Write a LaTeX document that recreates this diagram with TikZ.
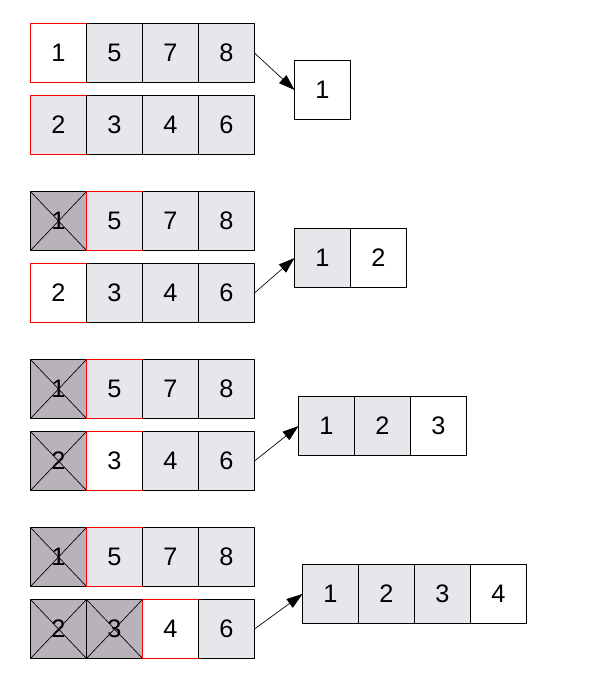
\documentclass[tikz,border=0pt]{standalone}
\usepackage{fontspec}
\setmainfont{Liberation Sans}
\usetikzlibrary{arrows.meta}
\definecolor{cellgray}{RGB}{232,230,234}
\definecolor{usedgray}{RGB}{184,178,187}

\begin{document}
\begin{tikzpicture}[x=0.75pt,y=-0.75pt,
	box/.style={draw=black,line width=0.75pt,minimum width=42pt,minimum height=44.25pt,inner sep=0pt,outer sep=0pt,font=\fontsize{19}{22}\selectfont},
	cell/.style={box,fill=cellgray},
	free/.style={box,fill=white},
	used/.style={box,fill=usedgray,path picture={\draw[line width=0.5pt] (path picture bounding box.south west) -- (path picture bounding box.north east) (path picture bounding box.north west) -- (path picture bounding box.south east);}},
	curline/.style={draw=red,line width=0.75pt},
	link/.style={line width=0.5pt,-{Triangle[length=12pt,width=8pt]}}]
		\useasboundingbox (0,0) rectangle (604,697);
		% step 1
		\node[free] (T1-1) at (58.5,53) {1};
		\node[cell] (T1-2) at (114.5,53) {5};
		\node[cell] (T1-3) at (170.5,53) {7};
		\node[cell] (T1-4) at (226.5,53) {8};
		\node[cell] (B1-1) at (58.5,125) {2};
		\node[cell] (B1-2) at (114.5,125) {3};
		\node[cell] (B1-3) at (170.5,125) {4};
		\node[cell] (B1-4) at (226.5,125) {6};
		\node[free] (R1-1) at (322.5,90) {1};
		\draw[link] (T1-4.east) -- (R1-1.west);
		% step 2
		\node[used] (T2-1) at (58.5,221) {1};
		\node[cell] (T2-2) at (114.5,221) {5};
		\node[cell] (T2-3) at (170.5,221) {7};
		\node[cell] (T2-4) at (226.5,221) {8};
		\node[free] (B2-1) at (58.5,293) {2};
		\node[cell] (B2-2) at (114.5,293) {3};
		\node[cell] (B2-3) at (170.5,293) {4};
		\node[cell] (B2-4) at (226.5,293) {6};
		\node[cell] (R2-1) at (322.5,258) {1};
		\node[free] (R2-2) at (378.5,258) {2};
		\draw[link] (B2-4.east) -- (R2-1.west);
		% step 3
		\node[used] (T3-1) at (58.5,389) {1};
		\node[cell] (T3-2) at (114.5,389) {5};
		\node[cell] (T3-3) at (170.5,389) {7};
		\node[cell] (T3-4) at (226.5,389) {8};
		\node[used] (B3-1) at (58.5,461) {2};
		\node[free] (B3-2) at (114.5,461) {3};
		\node[cell] (B3-3) at (170.5,461) {4};
		\node[cell] (B3-4) at (226.5,461) {6};
		\node[cell] (R3-1) at (326.5,426) {1};
		\node[cell] (R3-2) at (382.5,426) {2};
		\node[free] (R3-3) at (438.5,426) {3};
		\draw[link] (B3-4.east) -- (R3-1.west);
		% step 4
		\node[used] (T4-1) at (58.5,557) {1};
		\node[cell] (T4-2) at (114.5,557) {5};
		\node[cell] (T4-3) at (170.5,557) {7};
		\node[cell] (T4-4) at (226.5,557) {8};
		\node[used] (B4-1) at (58.5,629) {2};
		\node[used] (B4-2) at (114.5,629) {3};
		\node[free] (B4-3) at (170.5,629) {4};
		\node[cell] (B4-4) at (226.5,629) {6};
		\node[cell] (R4-1) at (330.5,594) {1};
		\node[cell] (R4-2) at (386.5,594) {2};
		\node[cell] (R4-3) at (442.5,594) {3};
		\node[free] (R4-4) at (498.5,594) {4};
		\draw[link] (B4-4.east) -- (R4-1.west);
		% current heads in red
		\foreach \c in {T1-1,B1-1,T2-2,B2-1,T3-2,B3-2,T4-2,B4-3}
			\draw[curline] (\c.north east) -- (\c.north west) -- (\c.south west) -- (\c.south east);
	\end{tikzpicture}
\end{document}
